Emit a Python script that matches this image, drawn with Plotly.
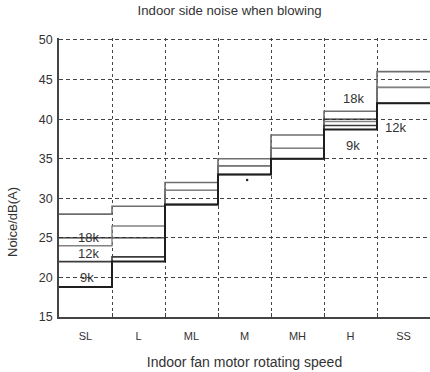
import plotly.graph_objects as go

# ---- data ----
categories = ["SL", "L", "ML", "M", "MH", "H", "SS"]
series_names = ["A", "B", "C", "D", "E"]
series_a = [28.0, 29.0, 32.0, 35.0, 38.0, 41.0, 46.0]
series_b = [25.0, 25.0, 31.0, 34.1, 36.3, 40.0, 44.0]
series_c = [24.0, 26.5, 31.0, 34.1, 36.3, 39.7, 44.0]
series_d = [22.0, 22.6, 29.2, 33.0, 35.0, 39.2, 42.0]
series_e = [18.8, 22.0, 29.2, 33.0, 35.0, 38.7, 42.0]
y_ticks = [15, 20, 25, 30, 35, 40, 45, 50]
label_texts = ["18k", "12k", "9k", "18k", "12k", "9k"]
dot_value = [32.3]

# ---- styles / positions ----
series_list = [series_a, series_b, series_c, series_d, series_e]
colors = ["#6e6e6e", "#2a2a2a", "#828282", "#3c3c3c", "#1e1e1e"]
widths = [1.6, 1.3, 1.4, 1.6, 2.0]
label_pos = [(0.55, 25.0), (0.55, 23.0), (0.53, 20.0),
             (5.55, 42.6), (6.35, 38.9), (5.55, 36.7)]

n = len(categories)
edges = list(range(n + 1))
grid_col = "#444"
dash = "4px,3px"

fig = go.Figure()
for name, vals, c, w in zip(series_names, series_list, colors, widths):
    fig.add_trace(go.Scatter(
        x=edges, y=vals + [vals[-1]], mode="lines", name=name,
        line=dict(color=c, width=w, shape="hv"), showlegend=False,
        hoverinfo="skip"))

fig.add_trace(go.Scatter(x=[3.55], y=dot_value, mode="markers",
                         marker=dict(color="#222", size=2.5),
                         showlegend=False, hoverinfo="skip"))

font_main = "Liberation Sans, Arial, sans-serif"

fig.update_layout(
    width=430, height=372,
    margin=dict(l=59, r=0, t=38, b=55),
    paper_bgcolor="white", plot_bgcolor="white",
    font=dict(family=font_main, color="#333"),
    title=dict(text="Indoor side noise when blowing", x=0.534, xanchor="center",
               y=1 - 10 / 372, yanchor="middle",
               font=dict(size=13.2, color="#333", family=font_main)),
    xaxis=dict(range=[0, n], tickvals=[i + 0.5 for i in range(n)],
               ticktext=categories, showgrid=False, zeroline=False,
               showline=True, linecolor="#444", linewidth=1.6,
               ticks="", tickfont=dict(size=11, color="#333"),
               ticklabelstandoff=8,
               minor=dict(tickvals=list(range(1, n)), showgrid=True,
                          gridcolor=grid_col, griddash="3px,3px", gridwidth=1,
                          ticks="inside", ticklen=4, tickcolor="#444"),
               title=dict(text="Indoor fan motor rotating speed",
                          font=dict(size=14, color="#333"), standoff=16)),
    yaxis=dict(range=[15, 50.25], tickvals=y_ticks, showgrid=True,
               gridcolor=grid_col, griddash=dash, gridwidth=1,
               zeroline=False, showline=True, linecolor="#444",
               linewidth=1.6, ticks="", tickfont=dict(size=12.5, color="#333"),
               ticklabelstandoff=2),
)

for t, (x, y) in zip(label_texts, label_pos):
    fig.add_annotation(x=x, y=y, text=t, showarrow=False,
                       font=dict(size=13, color="#333", family=font_main))

fig.add_annotation(xref="paper", yref="paper", x=-59 / 371 + 12 / 371,
                   y=(317 - 222) / 279, text="Noice/dB(A)", textangle=-90,
                   showarrow=False, xanchor="center", yanchor="middle",
                   font=dict(size=13, color="#333", family=font_main))

fig.write_html("out.html", config={"displayModeBar": False},
               post_script="document.body.style.margin='0';document.body.style.overflow='hidden';")
